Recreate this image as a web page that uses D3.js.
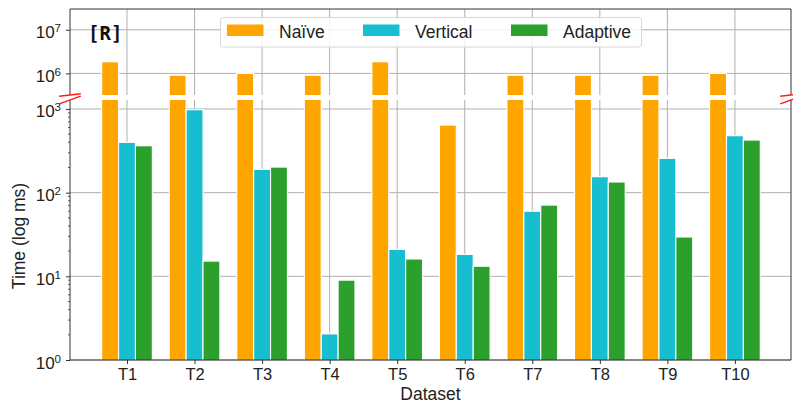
<!DOCTYPE html>
<html>
<head>
<meta charset="utf-8">
<script src="https://cdn.jsdelivr.net/npm/d3@7"></script>
<style>
  html, body { margin: 0; padding: 0; background: #fff; }
  svg { display: block; font-family: "Liberation Sans", Arial, Helvetica, sans-serif; }
</style>
</head>
<body>
<svg id="chart" width="793" height="404"></svg>
<script>
// Run times per dataset (ms), log-scaled with a broken y axis
const categories = ["T1", "T2", "T3", "T4", "T5", "T6", "T7", "T8", "T9", "T10"];
const naive    = [1.85e6, 9.1e5, 1.0e6, 9.1e5, 1.85e6, 642, 9.1e5, 9.1e5, 9.1e5, 1.0e6];
const vertical = [399, 980, 190, 2.05, 21, 18.3, 60, 155, 257, 479];
const adaptive = [363, 15.2, 202, 9.0, 16.1, 13.2, 71, 134, 29.5, 425];
const seriesNames = ["Naïve", "Vertical", "Adaptive"];
const seriesColors = ["#ffa500", "#17becf", "#2ca02c"];
const upperTicks = [1e6, 1e7];
const lowerTicks = [1, 10, 100, 1000];

const series = [naive, vertical, adaptive];
const svg = d3.select("#chart");

const left = 70, right = 791;
const upper = { top: 9, bottom: 95 };
const lower = { top: 100, bottom: 360 };

const x = d3.scaleLinear().domain([-0.844, categories.length - 1 + 0.83]).range([left, right]);
const yUp = d3.scaleLog().domain([3.2e5, 3.0e7]).range([upper.bottom, upper.top]);
const yLo = d3.scaleLog().domain([1, 1280]).range([lower.bottom, lower.top]);
const barW = 0.25;
const gridColor = "#b0b0b0";
const axisColor = "#333";

const defs = svg.append("defs");
[["clipUp", upper], ["clipLo", lower]].forEach(([id, p]) => {
  defs.append("clipPath").attr("id", id).append("rect")
    .attr("x", left).attr("y", p.top).attr("width", right - left).attr("height", p.bottom - p.top);
});

function panel(p, y, ticks, clipId, isLower) {
  const g = svg.append("g");
  // grid
  g.selectAll("line.hg").data(ticks).join("line")
    .attr("x1", left).attr("x2", right)
    .attr("y1", d => y(d)).attr("y2", d => y(d))
    .attr("stroke", gridColor).attr("stroke-width", 1);
  g.selectAll("line.vg").data(categories).join("line")
    .attr("x1", (d, i) => x(i)).attr("x2", (d, i) => x(i))
    .attr("y1", p.top).attr("y2", p.bottom)
    .attr("stroke", gridColor).attr("stroke-width", 1);
  // bars
  const bars = g.append("g").attr("clip-path", `url(#${clipId})`);
  series.forEach((vals, s) => {
    bars.selectAll(null).data(vals).join("rect")
      .attr("x", (d, i) => x(i + (s - 1) * barW - barW / 2))
      .attr("width", x(barW) - x(0))
      .attr("y", d => y(d))
      .attr("height", d => Math.max(0, p.bottom + 2 - y(d)))
      .attr("fill", seriesColors[s])
      .attr("stroke", "#fff").attr("stroke-width", 1.1);
  });
  // y axis
  const ax = d3.axisLeft(y).tickValues(ticks).tickSize(4).tickFormat("");
  const axG = g.append("g").attr("transform", `translate(${left},0)`).call(ax);
  axG.select(".domain").remove();
  axG.selectAll("line").attr("stroke", axisColor);
  if (isLower) {
    const minors = [];
    for (let e = 0; e < 3; e++) for (let k = 2; k <= 9; k++) minors.push(k * Math.pow(10, e));
    g.selectAll("line.mn").data(minors.filter(v => y(v) >= p.top)).join("line")
      .attr("x1", left - 2).attr("x2", left)
      .attr("y1", d => y(d)).attr("y2", d => y(d))
      .attr("stroke", axisColor).attr("stroke-width", 0.8);
  }
  // tick labels as 10^n
  const lab = g.selectAll("text.yl").data(ticks).join("text")
    .attr("x", 61).attr("y", d => y(d) + 8.5)
    .attr("text-anchor", "end").attr("font-size", 17).attr("fill", "#222");
  lab.append("tspan").text("10");
  lab.append("tspan").attr("font-size", 11.5).attr("dy", -6).text(d => Math.round(Math.log10(d)));
  // spines
  g.append("line").attr("x1", left).attr("x2", left).attr("y1", p.top).attr("y2", p.bottom)
    .attr("stroke", axisColor).attr("stroke-width", 1);
  g.append("line").attr("x1", right).attr("x2", right).attr("y1", p.top).attr("y2", p.bottom)
    .attr("stroke", axisColor).attr("stroke-width", 1);
  if (isLower) {
    g.append("line").attr("x1", left).attr("x2", right).attr("y1", p.bottom).attr("y2", p.bottom)
      .attr("stroke", axisColor).attr("stroke-width", 1);
  } else {
    g.append("line").attr("x1", left).attr("x2", right).attr("y1", p.top).attr("y2", p.top)
      .attr("stroke", axisColor).attr("stroke-width", 1);
  }
  return g;
}

panel(upper, yUp, upperTicks, "clipUp", false);
panel(lower, yLo, lowerTicks, "clipLo", true);

// x axis
const xa = d3.axisBottom(x).tickValues(d3.range(categories.length)).tickSize(4)
  .tickFormat(i => categories[i]);
const xG = svg.append("g").attr("transform", `translate(0,${lower.bottom})`).call(xa);
xG.select(".domain").remove();
xG.selectAll("line").attr("stroke", axisColor);
xG.selectAll("text").attr("font-size", 16.5).attr("fill", "#222").attr("dy", null).attr("y", 20)
  .attr("font-family", "'Liberation Sans', Arial, sans-serif");

// axis titles
svg.append("text").attr("x", (left + right) / 2).attr("y", 399.5).attr("text-anchor", "middle")
  .attr("font-size", 17.5).attr("fill", "#222").text("Dataset");
svg.append("text").attr("transform", "translate(25,236) rotate(-90)").attr("text-anchor", "middle")
  .attr("font-size", 17.5).attr("fill", "#222").text("Time (log ms)");

// break marks
const d = 0.015, W = right - left, hU = upper.bottom - upper.top, hL = lower.bottom - lower.top;
const breaks = [
  [left - d * W, upper.bottom + d * hU, left + d * W, upper.bottom - d * hU],
  [right - d * W, upper.bottom + d * hU, right + d * W, upper.bottom - d * hU],
  [left - d * W, lower.top + d * hL, left + d * W, lower.top - d * hL],
  [right - d * W, lower.top + d * hL, right + d * W, lower.top - d * hL]
];
svg.selectAll("line.brk").data(breaks).join("line")
  .attr("x1", b => b[0]).attr("y1", b => b[1]).attr("x2", b => b[2]).attr("y2", b => b[3])
  .attr("stroke", "#ff1a1a").attr("stroke-width", 1.5);

// panel tag
svg.append("text").attr("x", 88).attr("y", 39.5)
  .attr("font-family", "'DejaVu Sans Mono', monospace").attr("font-weight", "bold")
  .attr("font-size", 19).attr("fill", "#111").text("[R]");

// legend
const lg = svg.append("g");
lg.append("rect").attr("x", 220.5).attr("y", 17.5).attr("width", 421).attr("height", 29.5).attr("rx", 3)
  .attr("fill", "#fff").attr("fill-opacity", 0.85).attr("stroke", "#d6d6d6");
const lx = [227, 363, 511];
seriesNames.forEach((n, i) => {
  lg.append("rect").attr("x", lx[i]).attr("y", 24.5).attr("width", 36.5).attr("height", 11.5)
    .attr("fill", seriesColors[i]);
  lg.append("text").attr("x", lx[i] + 52).attr("y", 37.5).attr("font-size", 17.5).attr("fill", "#222").text(n);
});
</script>
</body>
</html>
